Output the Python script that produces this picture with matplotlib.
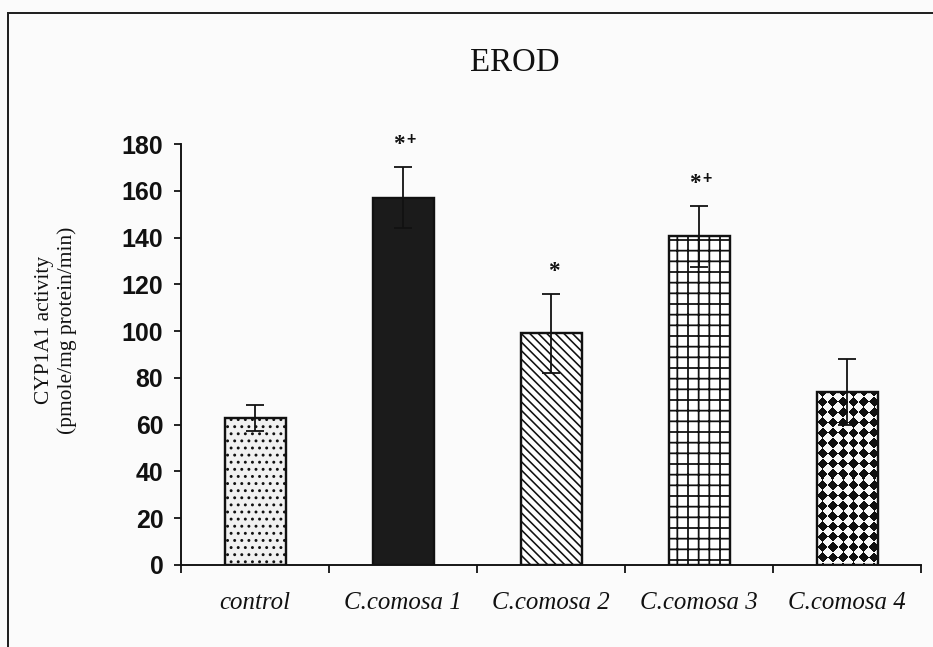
import numpy as np
import matplotlib
matplotlib.use('Agg')
import matplotlib.pyplot as plt
from matplotlib.lines import Line2D

# ---- data ----
categories = ['control', 'C.comosa 1', 'C.comosa 2', 'C.comosa 3', 'C.comosa 4']
means = [63, 157, 99, 140.5, 74]
errors = [5.5, 13, 17, 13, 14]
marks = ['', '*+', '*', '*+', '']
yticks = [0, 20, 40, 60, 80, 100, 120, 140, 160, 180]

DPI = 128
W, H = 933, 647


def px(v):
    """pixels -> points"""
    return v * 72.0 / DPI


plt.rcParams['hatch.linewidth'] = 0.85
fig = plt.figure(figsize=(W / DPI, H / DPI), dpi=DPI, facecolor='#fbfbfb')
ax = fig.add_axes([181 / W, 1 - 565 / H, (921 - 181) / W, (565 - 144) / H])
ax.set_facecolor('none')

x = np.arange(len(categories))
width = 61 / 148

styles = [
    dict(face='#f1f1f1', hatch='...', hlw=0.85),
    dict(face='#1b1b1b', hatch=None, hlw=0.85),
    dict(face='white', hatch='\\' * 5, hlw=0.9),
    dict(face='white', hatch='++', hlw=1.0),
    dict(face='none', hatch=None, hlw=0.85),
]

bars = ax.bar(x, means, width, color='white', edgecolor='#111111',
              linewidth=px(2.4), zorder=2)
for b, st in zip(bars, styles):
    b.set_facecolor(st['face'])
    if st['hatch']:
        b.set_hatch(st['hatch'])
        if hasattr(b, 'set_hatch_linewidth'):
            b.set_hatch_linewidth(st['hlw'])

ax.errorbar(x, means, yerr=errors, fmt='none', ecolor='#111111',
            elinewidth=px(1.8), capsize=px(9), capthick=px(1.8), zorder=4)

for xi, m, e, mk in zip(x, means, errors, marks):
    if '*' in mk:
        dx = -4 if '+' in mk else 3
        ax.annotate('*', (xi, m + e), xytext=(px(dx), px(12)), textcoords='offset points',
                    ha='center', va='bottom', fontsize=13, fontweight='bold',
                    family='Liberation Serif', color='#111111', zorder=5)
    if '+' in mk:
        ax.annotate('+', (xi, m + e), xytext=(px(8), px(20)), textcoords='offset points',
                    ha='center', va='bottom', fontsize=9, fontweight='bold',
                    family='Liberation Sans', color='#111111', zorder=5)

ax.set_xlim(-0.5, len(categories) - 0.5)
ax.set_ylim(0, 180)

ax.set_xticks(np.arange(-0.5, len(categories), 1.0))
ax.set_xticks(x, minor=True)
ax.set_xticklabels(categories, minor=True, family='Liberation Serif',
                   style='italic', fontsize=14, color='#111111')
ax.tick_params(axis='x', which='major', length=px(8), width=px(1.8),
               direction='out', labelbottom=False, color='#111111')
ax.tick_params(axis='x', which='minor', length=0, pad=15)

ax.set_yticks(yticks)
ax.set_yticklabels([str(v) for v in yticks], family='Liberation Sans',
                   fontweight='bold', fontsize=14, color='#111111')
ax.tick_params(axis='y', length=px(7), width=px(1.8), direction='out', pad=6,
               color='#111111')

for s in ['top', 'right']:
    ax.spines[s].set_visible(False)
for s in ['left', 'bottom']:
    ax.spines[s].set_linewidth(px(1.9))
    ax.spines[s].set_color('#111111')

# checker texture for the last bar, clipped to the bar
fig.canvas.draw()
b = bars[4]
bb = b.get_window_extent()
wpx, hpx = int(round(bb.width)), int(round(bb.height))
yy, xx = np.mgrid[0:hpx, 0:wpx]
d = 10.3
tex = (np.floor((xx + yy) / d) + np.floor((xx - yy) / d)) % 2
tex = np.where(tex > 0.5, 0.97, 0.06)
im = ax.imshow(tex, cmap='gray', vmin=0, vmax=1, aspect='auto', interpolation='nearest',
               extent=(b.get_x(), b.get_x() + b.get_width(), 0, b.get_height()), zorder=1.5)
im.set_clip_path(b)
ax.set_xlim(-0.5, len(categories) - 0.5)
ax.set_ylim(0, 180)

# title, y label, frame
fig.text(515 / W, 1 - 63 / H, 'EROD', ha='center', va='center',
         family='Liberation Serif', fontsize=18.5, color='#111111')
fig.text(56 / W, 1 - 330 / H, 'CYP1A1 activity\n(pmole/mg protein/min)', rotation=90,
         ha='center', va='center', multialignment='center', family='Liberation Serif',
         fontsize=12, linespacing=1.2, color='#111111')
fig.add_artist(Line2D([8 / W, 1], [1 - 13 / H, 1 - 13 / H], transform=fig.transFigure,
                      color='#222222', lw=px(2)))
fig.add_artist(Line2D([8 / W, 8 / W], [1 - 13 / H, 0], transform=fig.transFigure,
                      color='#222222', lw=px(2)))

fig.savefig('out.png', dpi=DPI, facecolor=fig.get_facecolor())
